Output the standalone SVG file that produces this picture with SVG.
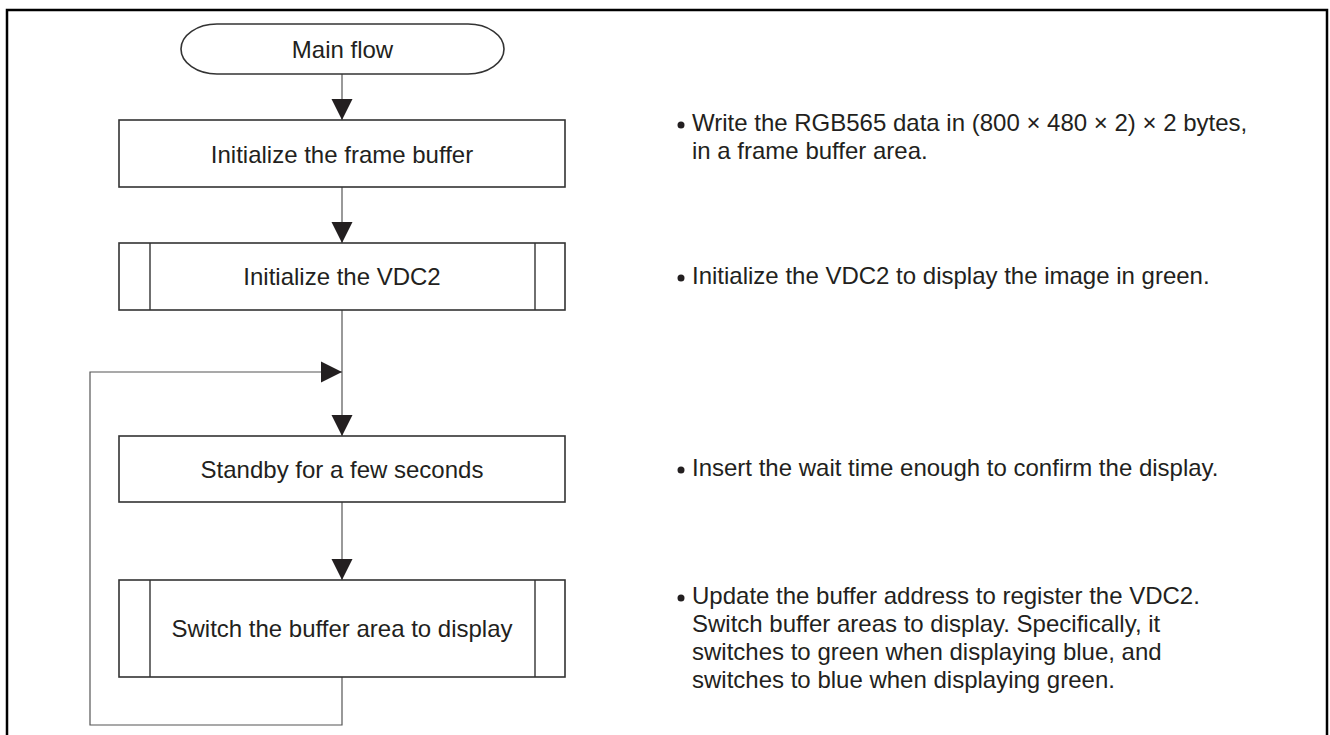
<svg xmlns="http://www.w3.org/2000/svg" width="1330" height="735" viewBox="0 0 1330 735">
<defs>
<marker id="ah" markerUnits="userSpaceOnUse" markerWidth="22" markerHeight="22" viewBox="0 0 22 22" refX="21" refY="11" orient="auto">
<path d="M0,0.5 L21,11 L0,21.5 Z" fill="#231f20"/>
</marker>
</defs>
<style>
.frame{fill:none;stroke:#000;stroke-width:2.5}
.box{fill:#fff;stroke:#333;stroke-width:1.6}
.in{stroke:#333;stroke-width:1.4}
.con{fill:none;stroke:#555;stroke-width:1.2}
.t{font-family:"Liberation Sans",Arial,sans-serif;font-size:24px;fill:#231f20}
.c{text-anchor:middle}
</style>
<rect class="frame" x="7" y="10" width="1320" height="745"/>
<g id="connectors">
<line class="con" x1="342" y1="74" x2="342" y2="120" marker-end="url(#ah)"/>
<line class="con" x1="342" y1="187" x2="342" y2="243" marker-end="url(#ah)"/>
<line class="con" x1="342" y1="310" x2="342" y2="436" marker-end="url(#ah)"/>
<line class="con" x1="342" y1="502" x2="342" y2="580" marker-end="url(#ah)"/>
<polyline class="con" points="342,677 342,725 90,725 90,372 342,372" marker-end="url(#ah)"/>
</g>
<g id="start">
<rect class="box" x="181" y="24" width="323" height="50" rx="36" ry="25"/>
<text class="t c" x="342.5" y="57.5">Main flow</text>
</g>
<g id="init-fb">
<rect class="box" x="119" y="120" width="446" height="67"/>
<text class="t c" x="342" y="162.5">Initialize the frame buffer</text>
</g>
<g id="init-vdc2">
<rect class="box" x="119" y="243" width="446" height="67"/>
<line class="in" x1="150" y1="243" x2="150" y2="310"/>
<line class="in" x1="535" y1="243" x2="535" y2="310"/>
<text class="t c" x="342" y="285">Initialize the VDC2</text>
</g>
<g id="standby">
<rect class="box" x="119" y="436" width="446" height="66"/>
<text class="t c" x="342" y="477.5">Standby for a few seconds</text>
</g>
<g id="switch">
<rect class="box" x="119" y="580" width="446" height="97"/>
<line class="in" x1="150" y1="580" x2="150" y2="677"/>
<line class="in" x1="535" y1="580" x2="535" y2="677"/>
<text class="t c" x="342" y="637">Switch the buffer area to display</text>
</g>
<g id="notes">
<circle cx="681" cy="125" r="3.5" fill="#231f20"/>
<text class="t" x="692" y="131">Write the RGB565 data in (800 × 480 × 2) × 2 bytes,</text>
<text class="t" x="692" y="159">in a frame buffer area.</text>
<circle cx="681" cy="278" r="3.5" fill="#231f20"/>
<text class="t" x="692" y="284">Initialize the VDC2 to display the image in green.</text>
<circle cx="681" cy="470" r="3.5" fill="#231f20"/>
<text class="t" x="692" y="476">Insert the wait time enough to confirm the display.</text>
<circle cx="681" cy="598" r="3.5" fill="#231f20"/>
<text class="t" x="692" y="604">Update the buffer address to register the VDC2.</text>
<text class="t" x="692" y="632">Switch buffer areas to display. Specifically, it</text>
<text class="t" x="692" y="660">switches to green when displaying blue, and</text>
<text class="t" x="692" y="688">switches to blue when displaying green.</text>
</g>
</svg>
